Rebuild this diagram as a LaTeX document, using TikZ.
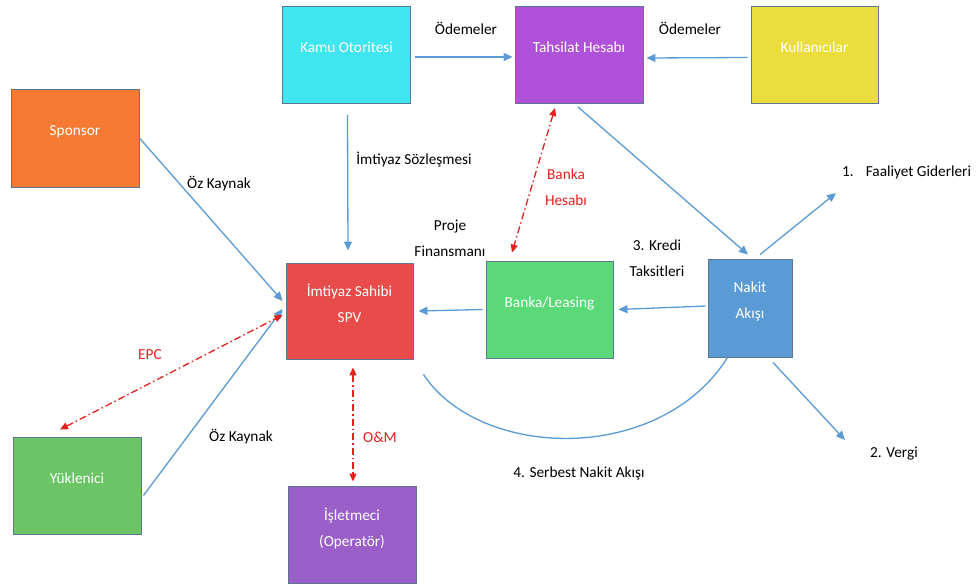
\documentclass[tikz,border=0pt]{standalone}
\usepackage{fontspec}
\setmainfont{Carlito}
\usetikzlibrary{arrows.meta,calc}
\definecolor{cKamu}{HTML}{3FE6EF}
\definecolor{cTah}{HTML}{B052D9}
\definecolor{cKul}{HTML}{EBDE3C}
\definecolor{cSpo}{HTML}{F57B34}
\definecolor{cSpv}{HTML}{E84C4A}
\definecolor{cBan}{HTML}{5BD878}
\definecolor{cNak}{HTML}{5B9BD5}
\definecolor{cYuk}{HTML}{6BC566}
\definecolor{cIsl}{HTML}{9B5FCA}
\definecolor{cEdge}{HTML}{5C7890}
\definecolor{cFlow}{HTML}{5B9BD5}
\definecolor{cRed}{HTML}{E3221F}
\tikzset{
  box/.style={draw=cEdge, line width=0.9pt, minimum width=128pt, minimum height=97pt,
    inner sep=0pt, text=white, align=center, font=\fontsize{15.3}{26}\selectfont,
    text depth=15.5pt},
  flow/.style={draw=cFlow, line width=1.3pt, -{Triangle[length=9pt,width=8pt]}},
  flowline/.style={draw=cFlow, line width=1.3pt},
  redarrow/.style={draw=cRed, line width=1.3pt, dash pattern=on 7pt off 3pt on 1.5pt off 3pt,
    {Triangle[length=8pt,width=7pt]}-{Triangle[length=8pt,width=7pt]}},
  lbl/.style={font=\fontsize{15.3}{26}\selectfont, text=black, align=center, inner sep=0pt},
  rlbl/.style={lbl, text=cRed},
}
\begin{document}
\begin{tikzpicture}[x=1pt,y=-1pt]
\useasboundingbox[fill=white] (0,0) rectangle (979,587);

% boxes
\node[box, fill=cKamu] (kamu) at (346.5,55) {Kamu Otoritesi};
\node[box, fill=cTah] (tah) at (579,55) {Tahsilat Hesabı};
\node[box, fill=cKul, minimum width=127pt] (kul) at (814.5,54.5) {Kullanıcılar};
\node[box, fill=cSpo, minimum height=98pt] (spo) at (75,138) {Sponsor};
\node[box, fill=cSpv, minimum width=127pt, minimum height=96pt] (spv) at (349.5,311) {İmtiyaz Sahibi\\SPV};
\node[box, fill=cBan, minimum width=127pt] (ban) at (549.5,309.5) {Banka/Leasing};
\node[box, fill=cNak, minimum width=84pt, minimum height=98pt] (nak) at (750,308) {Nakit\\Akışı};
\node[box, fill=cYuk] (yuk) at (77,485.5) {Yüklenici};
\node[box, fill=cIsl] (isl) at (352,534.5) {İşletmeci\\(Operatör)};

% free ends
\coordinate (fa) at (836,193);
\coordinate (ve) at (845,440);

% connectors
\draw[flow] ($(kamu.east)+(4,2)$) -- ($(tah.west)+(-2,2)$);
\draw[flow] ($(kul.west)+(-3,3)$) -- ($(tah.east)+(3,3)$);
\draw[flow] ($(kamu.south)+(1,11)$) -- ($(spv.north)+(-1.5,-12)$);
\draw[flow] (spo.east) -- ($(spv.west)+(-3,-10)$);
\draw[flow] ($(yuk.east)+(2,10)$) -- ($(spv.west)+(-3,-2)$);
\draw[redarrow] ($(yuk.north)+(-17,-7)$) -- ($(spv.west)+(-3,4)$);
\draw[redarrow] ($(spv.south)+(3.5,8)$) -- ($(isl.north)+(1,-4)$);
\draw[flow] ($(tah.south)+(-1,3)$) -- ($(nak.north)+(-2,-4)$);
\draw[redarrow] ($(tah.south)+(-24,4)$) -- ($(ban.north)+(-37.5,-8)$);
\draw[flow] ($(ban.west)+(-3,0)$) -- ($(spv.east)+(5,0)$);
\draw[flow] ($(nak.west)+(-2,-2)$) -- ($(ban.east)+(5,0)$);
\draw[flow] ($(nak.north)+(10,-4)$) -- (fa);
\draw[flow] ($(nak.south)+(23,5)$) -- (ve);
\draw[flowline] ($(spv.south east)+(10,15)$) .. controls (480,460) and (660,465) .. ($(nak.south west)+(20,0)$);

% labels
\node[lbl] (l1) at (466,28) {Ödemeler};
\node[lbl] (l2) at (690,28) {Ödemeler};
\node[lbl] (l3) at (414,160) {İmtiyaz Sözleşmesi};
\node[lbl] (l4) at (219,184) {Öz Kaynak};
\node[lbl] (l5) at (241,437) {Öz Kaynak};
\node[rlbl] (l6) at (150,355) {EPC};
\node[rlbl] (l7) at (380,437) {O\&M};
\node[rlbl] (l8) at (566,187) {Banka\\Hesabı};
\node[lbl] (l9) at (450,238) {Proje\\Finansmanı};
\node[lbl] (l10) at (657,258) {3. Kredi\\Taksitleri};
\node[lbl, anchor=west] (l11) at (842,172) {1.\hspace{12pt}Faaliyet Giderleri};
\node[lbl] (l12) at (894,454) {2. Vergi};
\node[lbl] (l13) at (579,473) {4. Serbest Nakit Akışı};
\end{tikzpicture}
\end{document}
